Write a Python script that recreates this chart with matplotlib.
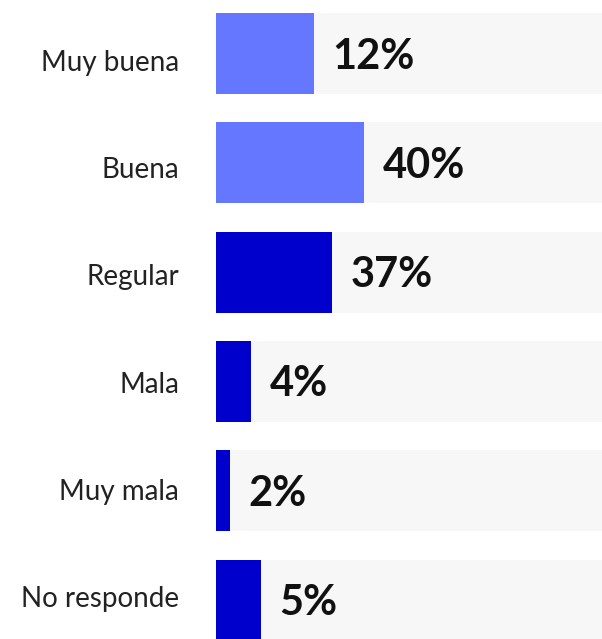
import matplotlib
matplotlib.use("Agg")
import matplotlib.pyplot as plt

# categories, shown percentages and bar lengths
categories = ["Muy buena", "Buena", "Regular", "Mala", "Muy mala", "No responde"]
percent_labels = [12, 40, 37, 4, 2, 5]
bar_lengths = [25.4, 38.3, 30.1, 9.1, 3.6, 11.7]
colors = ["#6677ff", "#6677ff", "#0000cc", "#0000cc", "#0000cc", "#0000cc"]

fig = plt.figure(figsize=(6.02, 6.39), dpi=100)
ax = fig.add_axes([216 / 602, 0, 386 / 602, 1])

y = range(len(categories))
ax.barh(y, [100] * len(categories), height=0.74, color="#f7f7f7", zorder=1)
ax.barh(y, bar_lengths, height=0.74, color=colors, zorder=2)

# the category labels sit on a slightly tighter pitch than the bars
for i, (length, pct) in enumerate(zip(bar_lengths, percent_labels)):
    ax.text(length + 4.8, i + 0.137, f"{pct}%", va="baseline", ha="left",
            fontsize=30, fontweight="bold", family="Lato", color="#111111")
    ax.text(-9.6, 0.16 + 0.981 * i, categories[i], va="baseline", ha="right",
            fontsize=20, family="Lato", color="#222222")

ax.set_xlim(0, 100)
ax.set_ylim(5.357, -0.49)
ax.axis("off")

fig.savefig("out.png", dpi=100)
